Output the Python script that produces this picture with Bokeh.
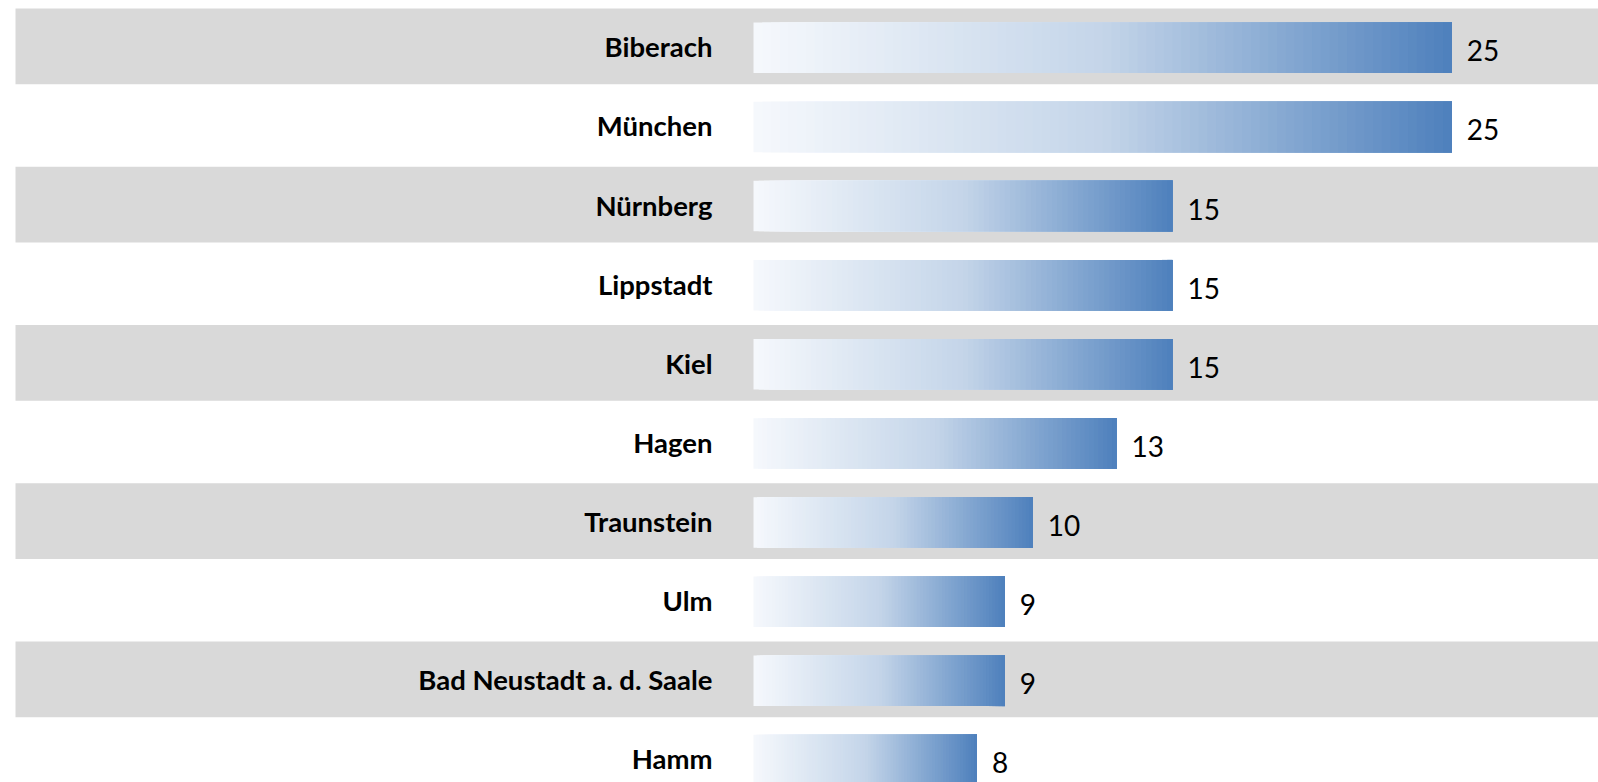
from bokeh.plotting import figure
from bokeh.models import Range1d
from bokeh.core.properties import value
from bokeh.embed import file_html
from bokeh.resources import INLINE

# Data
cities = ["Biberach", "München", "Nürnberg", "Lippstadt", "Kiel", "Hagen",
          "Traunstein", "Ulm", "Bad Neustadt a. d. Saale", "Hamm"]
counts = [25, 25, 15, 15, 15, 13, 10, 9, 9, 8]

# Layout (pixels)
W, H = 1598, 782
PX_PER_UNIT = 27.93      # horizontal scale
ORIGIN_X = 753           # pixel where the bars start
ROW_PITCH = 79.125       # pixels between row centres
FIRST_ROW_Y = 47.3       # pixel centre of first row
BAR_H = 50.6 / ROW_PITCH
BAND_H = 75.6 / ROW_PITCH
BAND_SHIFT = -1.4 / ROW_PITCH
BAND_LEFT_PX = 15

x_start = -ORIGIN_X / PX_PER_UNIT
x_end = (W - ORIGIN_X) / PX_PER_UNIT
y_top = -FIRST_ROW_Y / ROW_PITCH
y_bottom = (H - FIRST_ROW_Y) / ROW_PITCH

p = figure(width=W, height=H, output_backend="svg", toolbar_location=None,
           x_range=Range1d(x_start, x_end), y_range=Range1d(y_bottom, y_top),
           min_border=0, outline_line_color=None, background_fill_color="white",
           border_fill_color="white")
p.axis.visible = False
p.grid.visible = False

rows = list(range(len(cities)))

# Alternating grey bands behind every other row
band_rows = [i for i in rows if i % 2 == 0]
p.quad(left=[x_start + BAND_LEFT_PX / PX_PER_UNIT] * len(band_rows),
       right=[x_end + 1] * len(band_rows),
       top=[i + BAND_SHIFT - BAND_H / 2 for i in band_rows],
       bottom=[i + BAND_SHIFT + BAND_H / 2 for i in band_rows],
       fill_color="#d9d9d9", line_color=None)

# Horizontal gradient fill for each bar: light at the base, blue at the tip
stops = [(0.0, (245, 248, 252)), (0.5, (196, 213, 233)), (1.0, (79, 129, 189))]


def grad_color(t):
    for (t0, c0), (t1, c1) in zip(stops[:-1], stops[1:]):
        if t <= t1:
            f = (t - t0) / (t1 - t0)
            r, g, b = (round(a + (bb - a) * f) for a, bb in zip(c0, c1))
            return "#%02x%02x%02x" % (r, g, b)
    return "#%02x%02x%02x" % stops[-1][1]


N = 80
lefts, rights, tops, bottoms, colors = [], [], [], [], []
for i, v in zip(rows, counts):
    for k in range(N):
        t = k / (N - 1)
        lefts.append(v * k / N)
        rights.append(v)
        tops.append(i - BAR_H / 2)
        bottoms.append(i + BAR_H / 2)
        colors.append(grad_color(t))
p.quad(left=lefts, right=rights, top=tops, bottom=bottoms,
       fill_color=colors, line_color=None)

# Category labels, right-aligned left of the bars
p.text(x=[0] * len(cities), y=rows, text=cities, x_offset=-41, y_offset=-1,
       text_align="right", text_baseline="middle",
       text_font=value("Lato"), text_font_style="bold",
       text_font_size="27.5px", text_color="#000000")

# Value labels at bar ends
p.text(x=counts, y=rows, text=[str(c) for c in counts], x_offset=15, y_offset=3,
       text_align="left", text_baseline="middle",
       text_font=value("Lato"), text_font_size="28px", text_color="#000000")

open("out.html", "w").write(file_html(p, INLINE))
